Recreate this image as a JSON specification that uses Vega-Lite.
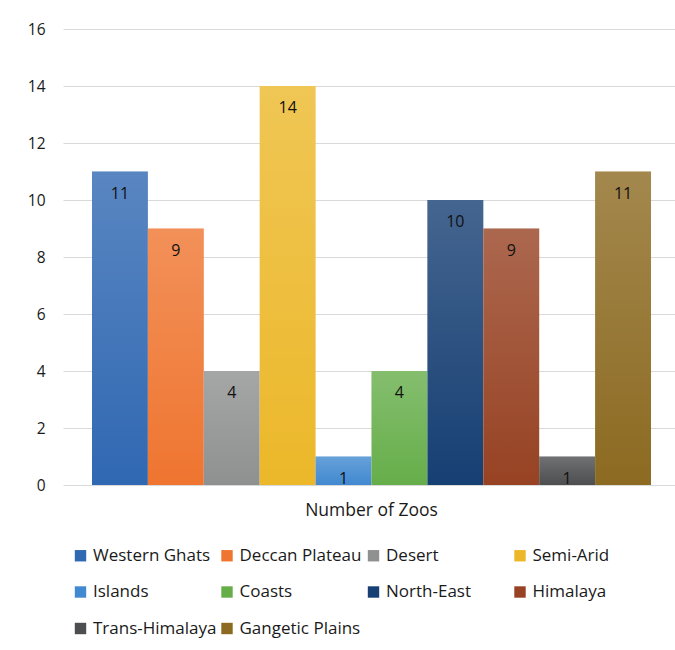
{
  "$schema": "https://vega.github.io/schema/vega-lite/v6.json",
  "width": 612,
  "height": 456,
  "autosize": {"type": "none"},
  "padding": {"left": 63, "top": 29, "right": 0, "bottom": 165},
  "background": "white",
  "config": {
    "font": "Open Sans, sans-serif",
    "view": {"stroke": null}
  },
  "data": {
    "values": [
      {"group": "Number of Zoos", "region": "Western Ghats", "zoos": 11},
      {"group": "Number of Zoos", "region": "Deccan Plateau", "zoos": 9},
      {"group": "Number of Zoos", "region": "Desert", "zoos": 4},
      {"group": "Number of Zoos", "region": "Semi-Arid", "zoos": 14},
      {"group": "Number of Zoos", "region": "Islands", "zoos": 1},
      {"group": "Number of Zoos", "region": "Coasts", "zoos": 4},
      {"group": "Number of Zoos", "region": "North-East", "zoos": 10},
      {"group": "Number of Zoos", "region": "Himalaya", "zoos": 9},
      {"group": "Number of Zoos", "region": "Trans-Himalaya", "zoos": 1},
      {"group": "Number of Zoos", "region": "Gangetic Plains", "zoos": 11}
    ]
  },
  "encoding": {
    "x": {
      "field": "group", "type": "nominal",
      "scale": {"paddingOuter": 0.0474, "paddingInner": 0, "align": 0.547},
      "axis": {"title": null, "labelAngle": 0, "labelFontSize": 17.5, "labelColor": "#1a1a1a", "labelPadding": 16, "ticks": false, "domain": false}
    },
    "xOffset": {
      "field": "region", "type": "nominal",
      "scale": {"domain": ["Western Ghats", "Deccan Plateau", "Desert", "Semi-Arid", "Islands", "Coasts", "North-East", "Himalaya", "Trans-Himalaya", "Gangetic Plains"], "paddingInner": 0, "paddingOuter": 0}
    },
    "y": {
      "field": "zoos", "type": "quantitative",
      "scale": {"domain": [0, 16]},
      "axis": {"title": null, "values": [0, 2, 4, 6, 8, 10, 12, 14, 16], "labelFontSize": 15.5, "labelColor": "#1a1a1a", "labelPadding": 18, "ticks": false, "domain": false, "gridColor": "#d9d9d9", "gridWidth": 1.2}
    }
  },
  "layer": [
    {
      "mark": {"type": "bar"},
      "encoding": {
        "fill": {
          "field": "region", "type": "nominal",
          "scale": {
            "domain": ["Western Ghats", "Deccan Plateau", "Desert", "Semi-Arid", "Islands", "Coasts", "North-East", "Himalaya", "Trans-Himalaya", "Gangetic Plains"],
            "range": ["#3068b2", "#ef7530", "#8f9090", "#ecb82a", "#4189d0", "#66ae4a", "#163f73", "#974223", "#4c4e4f", "#8c6a21"]
          },
          "legend": {
            "title": null,
            "orient": "none",
            "legendX": 9,
            "legendY": 518,
            "direction": "horizontal",
            "columns": 4,
            "gridAlign": "all",
            "columnPadding": 1.5,
            "rowPadding": 18.5,
            "symbolType": "square",
            "symbolSize": 130,
            "symbolStrokeWidth": 0,
            "labelFontSize": 17,
            "labelColor": "#1a1a1a",
            "labelOffset": 4
          }
        }
      }
    },
    {
      "mark": {
        "type": "bar",
        "fill": {"gradient": "linear", "x1": 0, "y1": 0, "x2": 0, "y2": 1, "stops": [{"offset": 0, "color": "rgba(255,255,255,0.2)"}, {"offset": 1, "color": "rgba(255,255,255,0)"}]}
      },
      "encoding": {}
    },
    {
      "mark": {"type": "text", "baseline": "middle", "dy": 22, "fontSize": 16, "color": "#111111"},
      "encoding": {
        "text": {"field": "zoos", "type": "quantitative"}
      }
    }
  ]
}
